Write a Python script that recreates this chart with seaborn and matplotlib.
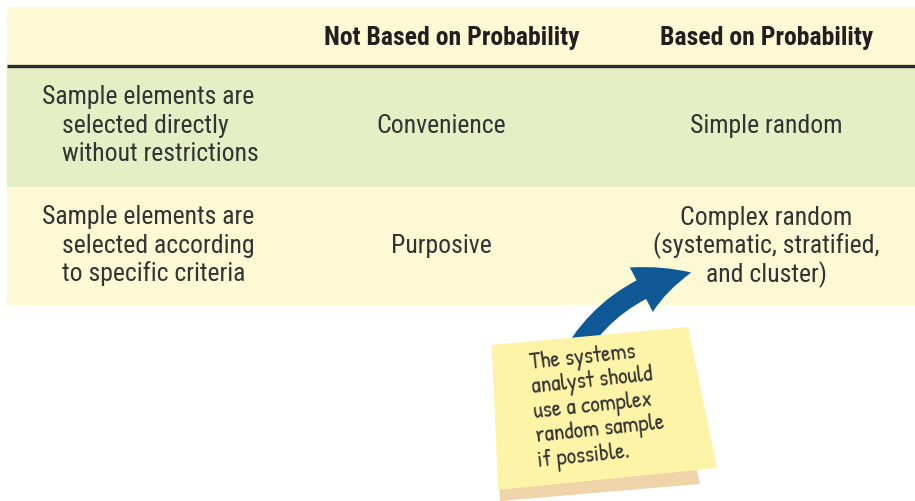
import matplotlib
matplotlib.use("Agg")
import matplotlib.pyplot as plt
import matplotlib.patches as mpatches
from matplotlib import font_manager
import seaborn as sns

# table content
col_headers = ["Not Based on Probability", "Based on Probability"]
row_labels = [
    ["Sample elements are", "selected directly", "without restrictions"],
    ["Sample elements are", "selected according", "to specific criteria"],
]
not_prob = ["Convenience", "Purposive"]
prob = [["Simple random"],
        ["Complex random", "(systematic, stratified,", "and cluster)"]]
note_lines = ["The systems", "analyst should", "use a complex",
              "random sample", "if possible."]

row_colors = ["#E5EEC4", "#FEF9D5"]
header_color = "#FEF9D5"
arrow_color = "#0E5896"

sns.set_theme(style="white")

installed = {f.name for f in font_manager.fontManager.ttflist}


def pick(cands):
    for c in cands:
        if c in installed:
            return [c, "DejaVu Sans"]
    return ["DejaVu Sans"]


narrow = pick(["Roboto Condensed", "Archivo Narrow", "PT Sans Narrow",
               "Liberation Sans Narrow", "Sofia Sans Condensed"])
hand = pick(["Patrick Hand", "Architects Daughter", "Short Stack", "Lato"])
plt.rcParams["font.family"] = narrow

fig = plt.figure(figsize=(9.15, 5.01), dpi=100)
ax = fig.add_axes([0, 0, 1, 1])
ax.set_xlim(0, 915)
ax.set_ylim(501, 0)
ax.axis("off")

# header band
ax.add_patch(mpatches.Rectangle((7, 7), 908, 58, color=header_color, lw=0))
ax.plot([7, 915], [65.5, 65.5], color="#2E2E2E", lw=2.4, solid_capstyle="butt")
header_x = [452, 767]
for x, t in zip(header_x, col_headers):
    ax.text(x, 38, t, ha="center", va="center", fontsize=18.5,
            fontweight="bold", color="#231F20")

# body rows
row_top = [67, 187]
row_h = [120, 118]
fs = 18.5
for i in range(2):
    ax.add_patch(mpatches.Rectangle((7, row_top[i]), 908, row_h[i],
                                    color=row_colors[i], lw=0))
    mid = row_top[i] + 59
    for j, line in enumerate(row_labels[i]):
        x = 42 if j == 0 else 62
        ax.text(x, mid - 29 + 28.5 * j, line, ha="left", va="center",
                fontsize=fs, color="#333333")
    ax.text(441, mid, not_prob[i], ha="center", va="center",
            fontsize=fs, color="#333333")
    n = len(prob[i])
    for j, line in enumerate(prob[i]):
        ax.text(766, mid + (j - (n - 1) / 2) * 28.5, line, ha="center",
                va="center", fontsize=fs, color="#333333")

# curved arrow
arrow = mpatches.FancyArrowPatch(
    (565, 370), (694, 272),
    connectionstyle="arc3,rad=-0.25",
    arrowstyle=mpatches.ArrowStyle.Simple(head_length=38, head_width=36,
                                         tail_width=15),
    color=arrow_color, lw=0, zorder=3)
ax.add_patch(arrow)

# sticky note with a sheet under it
ax.add_patch(mpatches.Polygon([(492, 346), (500, 501), (700, 484), (690, 440)],
                              closed=True, color="#EED4A8", lw=0, zorder=4))
ax.add_patch(mpatches.Polygon([(492, 345), (688, 327), (717, 468), (498, 490)],
                              closed=True, color="#FEF4A8", lw=0, zorder=5))
for j, line in enumerate(note_lines):
    ax.text(530 + 2 * j, 364 + 24.5 * j, line, ha="left", va="center",
            rotation=6, rotation_mode="anchor", fontsize=17,
            family=hand, color="#333333", zorder=6)

fig.savefig("out.png", dpi=100)
